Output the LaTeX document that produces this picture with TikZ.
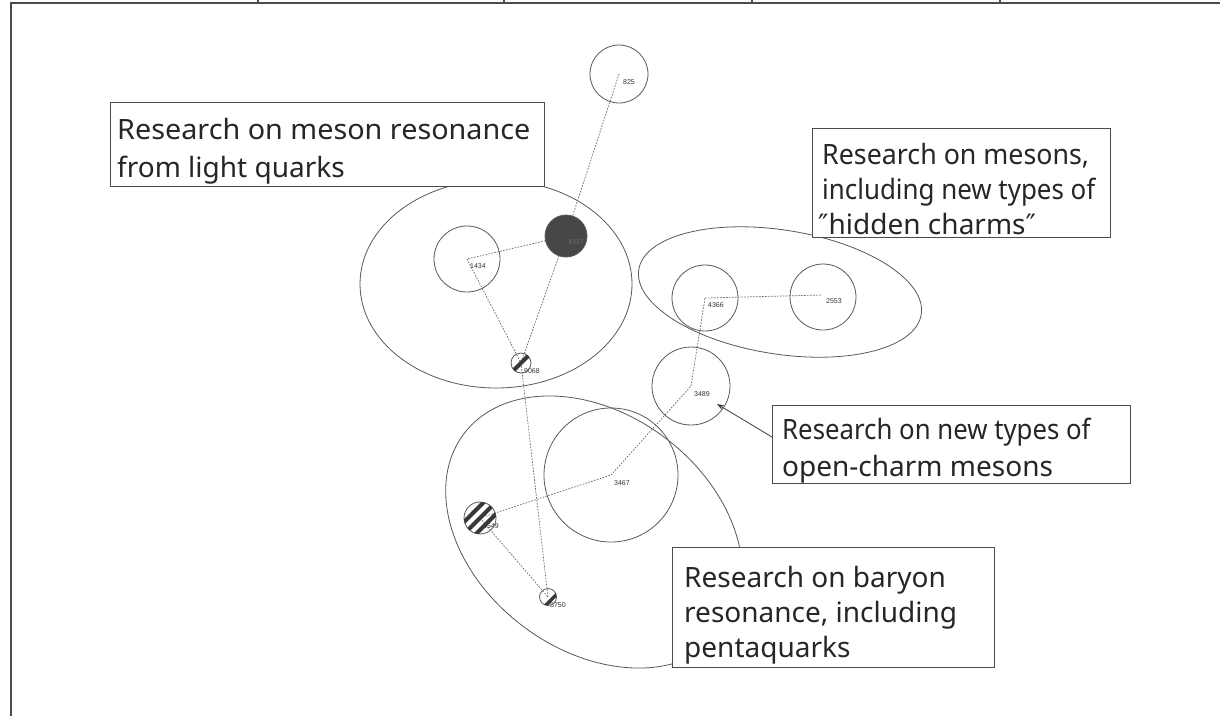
\documentclass[tikz,border=0pt]{standalone}
\usepackage{fontspec}
\usepackage{graphicx}
\setmainfont{Noto Sans}
\newfontfamily\labelfont{Liberation Sans}
\newfontfamily\quotefont{DejaVu Sans}
\usetikzlibrary{arrows.meta}
\begin{document}
\begin{tikzpicture}[x=1pt,y=-1pt,
  ring/.style={circle, draw=black!65, line width=0.8pt, inner sep=0pt},
  solid ring/.style={ring, fill=black!72},
  link/.style={draw=black!60, line width=0.7pt, dash pattern=on 1.6pt off 1.4pt},
  num/.style={font=\labelfont\fontsize{7}{8}\selectfont, text=black!80, inner sep=0pt, anchor=west},
  cluster/.style={draw=black!65, line width=0.8pt},
  stripe/.style={line width=4pt, black!78},
  notebox/.style={draw=black!70, line width=0.9pt, fill=white, anchor=north west, inner sep=0pt},
  noteline/.style={anchor=base west, inner sep=0pt, font=\fontsize{28}{34}\selectfont, text=black!85},
  pointer/.style={draw=black!75, line width=0.8pt, -{Stealth[length=7pt,width=5pt]}},
  frame/.style={draw=black!70, line width=1.2pt},
]
\useasboundingbox (0,0) rectangle (1220,716);
\fill[white] (0,0) rectangle (1220,716);

% page frame and header row
\draw[frame] (11,716) -- (11,3) -- (1220,3);
\foreach \xd in {258,504,752,1000} \draw[frame] (\xd,0) -- (\xd,3);

% clusters
\draw[cluster] (496,284) ellipse [x radius=136, y radius=104];
\draw[cluster, rotate around={-9:(780,292)}] (780,292) ellipse [x radius=143, y radius=62];
\draw[cluster, rotate around={-37:(594,532)}] (594,532) ellipse [x radius=163, y radius=118];

% node positions
\coordinate (c825) at (619,74);
\coordinate (cA) at (566,236);
\coordinate (c1434) at (467,259);
\coordinate (c9068) at (521,363);
\coordinate (c4366) at (705,298);
\coordinate (c2553) at (822,295);
\coordinate (c3489) at (691,386);
\coordinate (c3467) at (611,475);
\coordinate (c3549) at (480,518);
\coordinate (c5750) at (548,597);

% links
\draw[link] (c825) -- (cA);
\draw[link] (cA) -- (c1434);
\draw[link] (cA) -- (c9068);
\draw[link] (c1434) -- (c9068);
\draw[link] (c9068) -- (c5750);
\draw[link] (c3549) -- (c5750);
\draw[link] (c3549) -- (c3467);
\draw[link] (c3467) -- (c3489);
\draw[link] (c3489) -- (c4366);
\draw[link] (c4366) -- (c2553);

% open nodes
\node[ring, minimum size=58pt] (n825) at (c825) {};
\node[ring, minimum size=66pt] (n1434) at (c1434) {};
\node[ring, minimum size=66pt] (n4366) at (c4366) {};
\node[ring, minimum size=66pt] (n2553) at (823,297) {};
\node[ring, minimum size=78pt] (n3489) at (c3489) {};
\node[ring, minimum size=134pt] (n3467) at (c3467) {};

% node labels
\node[num] (l825) at ([shift={(4,8)}]c825) {825};
\node[num] (l1434) at ([shift={(3,7)}]c1434) {1434};
\node[num] (l4366) at ([shift={(3,7)}]c4366) {4366};
\node[num] (l2553) at ([shift={(4,6)}]c2553) {2553};
\node[num] (l3489) at ([shift={(3,8)}]c3489) {3489};
\node[num] (l3467) at ([shift={(3,8)}]c3467) {3467};
\node[num] (l9068) at ([shift={(3,8)}]c9068) {9068};
\node[num] (l3549) at ([shift={(3,8)}]c3549) {3549};
\node[num] (l5750) at ([shift={(2,8)}]c5750) {5750};

% filled node
\node[solid ring, minimum size=42pt] (nA) at (cA) {};
\node[num, text=black!58] (lA) at ([shift={(2,6)}]cA) {4337};

% striped nodes
\node[ring, minimum size=20pt] (n9068) at (c9068) {};
\begin{scope}[shift={(c9068)}]
  \clip (0,0) circle (10);
  \draw[stripe] (-14,14) -- (14,-14);
\end{scope}

\node[ring, minimum size=32pt] (n3549) at (c3549) {};
\begin{scope}[shift={(c3549)}]
  \clip (0,0) circle (16);
  \foreach \o in {-8.5,0,8.5}
    \draw[stripe] ([shift={(\o*0.707,\o*0.707)}]-22,22) -- ([shift={(\o*0.707,\o*0.707)}]22,-22);
\end{scope}

\node[ring, minimum size=17pt] (n5750) at (c5750) {};
\begin{scope}[shift={(c5750)}]
  \clip (0,0) circle (8.5);
  \draw[stripe, line width=3.5pt] (-9,15) -- (15,-9);
\end{scope}

% annotation boxes
\node[notebox, minimum width=434pt, minimum height=84pt] (b1) at (110,102) {};
\node[noteline] (t1a) at (117,139) {\scalebox{1.027}[1]{Research on meson resonance}};
\node[noteline] (t1b) at (117,177) {from light quarks};

\node[notebox, minimum width=298pt, minimum height=109pt] (b2) at (812,128) {};
\node[noteline] (t2a) at (822,164) {\scalebox{0.956}[1]{Research on mesons,}};
\node[noteline] (t2b) at (822,199) {\scalebox{0.925}[1]{including new types of}};
\node[noteline] (t2c) at (818,234) {{\quotefont ″}hidden charms{\quotefont ″}};

\node[notebox, minimum width=358pt, minimum height=78pt] (b3) at (772,405) {};
\node[noteline] (t3a) at (782,439) {\scalebox{0.92}[1]{Research on new types of}};
\node[noteline] (t3b) at (782,476) {open-charm mesons};

\node[notebox, minimum width=322pt, minimum height=120pt] (b4) at (672,547) {};
\node[noteline] (t4a) at (684,587) {Research on baryon};
\node[noteline] (t4b) at (684,622) {resonance, including};
\node[noteline] (t4c) at (684,657) {pentaquarks};

% pointer to the open-charm node
\coordinate (p3) at (772,437);
\coordinate (h3) at (717,404);
\draw[pointer] (p3) -- (h3);
\end{tikzpicture}
\end{document}
